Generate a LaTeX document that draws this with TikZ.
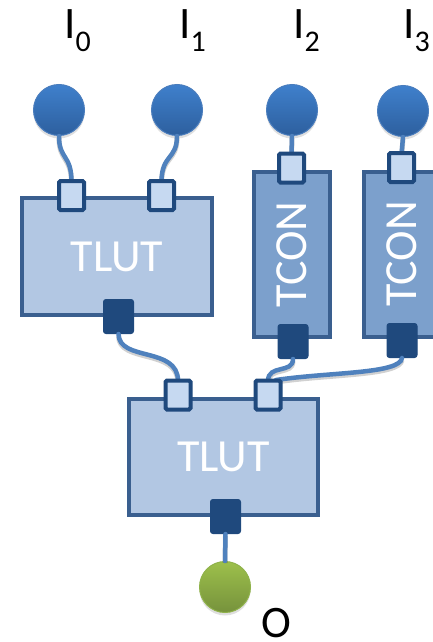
\documentclass[tikz,border=0pt]{standalone}
\usepackage{fontspec}
\setmainfont{Carlito}
\usetikzlibrary{shadows}
\definecolor{wireblue}{HTML}{4F81BD}
\definecolor{portdark}{HTML}{1F497D}
\definecolor{portlight}{HTML}{C6D9F1}
\definecolor{boxedge}{HTML}{3A5F8F}
\definecolor{tlutfill}{HTML}{B2C7E3}
\definecolor{tconfill}{HTML}{7CA0CC}
\definecolor{ballTop}{HTML}{3F80CC}
\definecolor{ballBot}{HTML}{2D5F9E}
\definecolor{ballEdge}{HTML}{4A7DBD}
\definecolor{greenTop}{HTML}{9DC04B}
\definecolor{greenBot}{HTML}{76923C}
\definecolor{greenEdge}{HTML}{8FB24A}
\newcommand{\bigfont}{\fontsize{46}{46}\selectfont}
\newcommand{\lblfont}{\fontsize{45}{45}\selectfont}
\newcommand{\lblsubfont}{\fontsize{30}{30}\selectfont}
\begin{document}
\begin{tikzpicture}[x=1pt,y=-1pt,
  wire/.style={draw=wireblue, line width=4.5pt, line cap=round,
    preaction={draw=black, opacity=0.18, line width=5pt, transform canvas={yshift=-2pt}}},
  inport/.style={rectangle, draw=portdark, fill=portlight, line width=4pt,
    rounded corners=1.5pt, minimum width=25pt, minimum height=29pt, inner sep=0pt},
  outport/.style={rectangle, draw=portdark, fill=portdark, line width=1pt,
    rounded corners=2.5pt, minimum width=30pt, minimum height=34pt, inner sep=0pt},
  tlut/.style={rectangle, draw=boxedge, fill=tlutfill, line width=4pt,
    minimum width=190pt, minimum height=117pt, inner sep=0pt, text=white, font=\bigfont},
  tcon/.style={rectangle, draw=boxedge, fill=tconfill, line width=4pt,
    minimum width=76pt, minimum height=165pt, inner sep=0pt},
  tcontext/.style={text=white, font=\bigfont, rotate=90, inner sep=0pt},
  ball/.style={circle, minimum size=51pt, inner sep=0pt, draw=ballEdge, line width=1pt,
    top color=ballTop, bottom color=ballBot,
    drop shadow={opacity=0.25, shadow xshift=0pt, shadow yshift=-3pt}},
  gball/.style={circle, minimum size=51pt, inner sep=0pt, draw=greenEdge, line width=1pt,
    top color=greenTop, bottom color=greenBot,
    drop shadow={opacity=0.25, shadow xshift=0pt, shadow yshift=-3pt}},
  lbl/.style={font=\lblfont, inner sep=0pt, anchor=base west}
]
\useasboundingbox (0,0) rectangle (432,642);

% labels
\node[lbl] (l0) at (64,39) {I\raisebox{-13pt}{\lblsubfont 0}};
\node[lbl] (l1) at (179,39) {I\raisebox{-13pt}{\lblsubfont 1}};
\node[lbl] (l2) at (293,39) {I\raisebox{-13pt}{\lblsubfont 2}};
\node[lbl] (l3) at (403,39) {I\raisebox{-13pt}{\lblsubfont 3}};
\node[lbl] (lo) at (261,637) {O};

% input balls
\node[ball] (c0) at (59,110) {};
\node[ball] (c1) at (177,110) {};
\node[ball] (c2) at (292,110) {};
\node[ball] (c3) at (403,111) {};
\node[gball] (co) at (225,587) {};

% boxes
\node[tlut] (t1) at (117,256.5) {TLUT};
\node[tlut, minimum width=189pt, minimum height=116pt] (t2) at (223.5,457) {TLUT};
\node[tcon] (k1) at (292,254.5) {};
\node[tcontext] at (k1.center) {TCON};
\node[tcon] (k2) at (402,254) {};
\node[tcontext] at (k2.center) {TCON};

% coordinates for wire ends
\coordinate (p0t) at (71.5,182);
\coordinate (p1t) at (161.5,182);
\coordinate (p2t) at (291.5,155);
\coordinate (p3t) at (401.5,155);
\coordinate (q0t) at (178,381);
\coordinate (q1t) at (268,381);
\coordinate (q1r) at (276,380);

% wires (drawn below ports)
\draw[wire] (c0.south) .. controls (59,160) and (71.5,154) .. (p0t);
\draw[wire] (c1.south) .. controls (177,160) and (161.5,154) .. (p1t);
\draw[wire] (c2.south) -- (p2t);
\draw[wire] (c3.south) -- (p3t);

% output ports
\node[outport] (o1) at (118.5,316.5) {};
\node[outport] (o2) at (293,341.5) {};
\node[outport] (o3) at (402,340.5) {};
\node[outport] (o4) at (225.5,516.5) {};

\draw[wire] (o1.south) .. controls (119,362) and (178,346) .. (q0t);
\draw[wire] (o2.south) .. controls (293,374) and (268,364) .. (q1t);
\draw[wire] (o3.south) .. controls (400,374) and (330,372) .. (q1r);
\draw[wire] (o4.south) -- (co.north);

% input ports
\node[inport] (p0) at (71.5,195.5) {};
\node[inport] (p1) at (161.5,195.5) {};
\node[inport] (p2) at (291.5,168) {};
\node[inport] (p3) at (401.5,167.5) {};
\node[inport] (q0) at (178,395) {};
\node[inport] (q1) at (268,395) {};
\end{tikzpicture}
\end{document}
